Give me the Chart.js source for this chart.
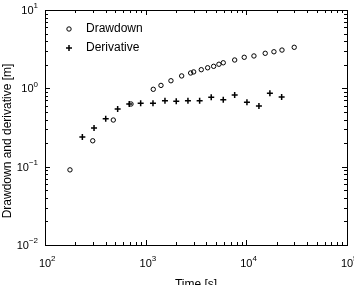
<!DOCTYPE html>
<html>
<head>
<meta charset="utf-8">
<script src="https://cdn.jsdelivr.net/npm/chart.js@4"></script>
<style>
  html, body { margin: 0; padding: 0; background: #fff; }
  canvas { display: block; }
</style>
</head>
<body>
<canvas id="grafico" width="354" height="285"></canvas>
<script>
// --- data ---
const timeDrawdown = [177, 298, 477, 715, 1190, 1419, 1783, 2278, 2798, 2998, 3567, 4128, 4735, 5345, 5900, 7660, 9530, 11900, 15400, 18800, 22600, 29900];
const drawdown = [0.091, 0.214, 0.394, 0.631, 0.972, 1.09, 1.25, 1.44, 1.57, 1.62, 1.73, 1.83, 1.91, 2.03, 2.12, 2.30, 2.49, 2.59, 2.80, 2.93, 3.08, 3.34];
const timeDerivative = [235, 307, 401, 527, 687, 892, 1182, 1555, 2013, 2630, 3437, 4480, 5900, 7660, 10140, 13340, 17140, 22430];
const derivative = [0.239, 0.312, 0.410, 0.545, 0.631, 0.644, 0.644, 0.695, 0.683, 0.695, 0.695, 0.768, 0.716, 0.822, 0.664, 0.595, 0.864, 0.775];

const xDecades = [2, 3, 4, 5];
const yDecades = [-2, -1, 0, 1];
const seriesNames = ['Drawdown', 'Derivative'];
const xTitle = 'Time [s]';
const yTitle = 'Drawdown and derivative [m]';

const FONT = '"Liberation Sans", Arial, Helvetica, sans-serif';

function toPoints(xs, ys) {
    return xs.map((x, i) => ({ x: x, y: ys[i] }));
}

// label "10" with a raised exponent
function drawPower(ctx, exp, x, y, align) {
    const base = '10';
    const sup = String(exp).replace('-', '\u2212');
    ctx.font = '11px ' + FONT;
    const wb = ctx.measureText(base).width;
    ctx.font = '8px ' + FONT;
    const ws = ctx.measureText(sup).width;
    let left;
    if (align === 'center') left = x - wb / 2;
    else left = x - wb - ws; // right aligned
    ctx.textAlign = 'left';
    ctx.textBaseline = 'middle';
    ctx.font = '11px ' + FONT;
    ctx.fillText(base, left, y);
    ctx.font = '8px ' + FONT;
    ctx.fillText(sup, left + wb, y - 5);
}

// axes box, inward ticks, labels, legend (MATLAB look)
const frame = {
    id: 'frame',
    afterDraw(chart) {
        const ctx = chart.ctx;
        const a = chart.chartArea;
        const xs = chart.scales.x;
        const ys = chart.scales.y;
        ctx.save();
        ctx.strokeStyle = '#000';
        ctx.fillStyle = '#000';
        ctx.lineWidth = 1;
        ctx.strokeRect(Math.round(a.left) + 0.5, Math.round(a.top) + 0.5,
            Math.round(a.right - a.left), Math.round(a.bottom - a.top));

        ctx.beginPath();
        xDecades.forEach(d => {
            for (let m = 1; m <= 9; m++) {
                const v = m * Math.pow(10, d);
                if (v > xs.max * 1.0001) break;
                const px = Math.round(xs.getPixelForValue(v)) + 0.5;
                const len = m === 1 ? 5 : 3;
                ctx.moveTo(px, a.bottom); ctx.lineTo(px, a.bottom - len);
                ctx.moveTo(px, a.top); ctx.lineTo(px, a.top + len);
            }
        });
        yDecades.forEach(d => {
            for (let m = 1; m <= 9; m++) {
                const v = m * Math.pow(10, d);
                if (v > ys.max * 1.0001) break;
                const py = Math.round(ys.getPixelForValue(v)) + 0.5;
                const len = m === 1 ? 5 : 3;
                ctx.moveTo(a.left, py); ctx.lineTo(a.left + len, py);
                ctx.moveTo(a.right, py); ctx.lineTo(a.right - len, py);
            }
        });
        ctx.stroke();

        xDecades.forEach(d => {
            drawPower(ctx, d, xs.getPixelForValue(Math.pow(10, d)), a.bottom + 19, 'center');
        });
        yDecades.forEach(d => {
            drawPower(ctx, d, a.left - 7, ys.getPixelForValue(Math.pow(10, d)) + 1, 'right');
        });

        // axis titles
        ctx.font = '12px ' + FONT;
        ctx.textAlign = 'center';
        ctx.textBaseline = 'middle';
        ctx.fillText(xTitle, (a.left + a.right) / 2, a.bottom + 40);
        ctx.save();
        ctx.translate(8, 141);
        ctx.rotate(-Math.PI / 2);
        ctx.fillText(yTitle, 0, 0);
        ctx.restore();

        // legend inside the axes
        const lx = a.left + 24;
        const ly = [a.top + 19, a.top + 38];
        ctx.beginPath();
        ctx.arc(lx, ly[0], 2.2, 0, Math.PI * 2);
        ctx.stroke();
        ctx.lineWidth = 1.5;
        ctx.beginPath();
        ctx.moveTo(lx - 3, ly[1]); ctx.lineTo(lx + 3, ly[1]);
        ctx.moveTo(lx, ly[1] - 3); ctx.lineTo(lx, ly[1] + 3);
        ctx.stroke();
        ctx.textAlign = 'left';
        ctx.font = '12px ' + FONT;
        ctx.fillText(seriesNames[0], lx + 17, ly[0]);
        ctx.fillText(seriesNames[1], lx + 17, ly[1]);
        ctx.restore();
    }
};

const config = {
    type: 'scatter',
    data: {
        datasets: [
            {
                label: seriesNames[0],
                data: toPoints(timeDrawdown, drawdown),
                pointStyle: 'circle',
                pointRadius: 2.2,
                borderWidth: 1,
                borderColor: '#000',
                backgroundColor: 'rgba(0,0,0,0)'
            },
            {
                label: seriesNames[1],
                data: toPoints(timeDerivative, derivative),
                pointStyle: 'cross',
                pointRadius: 3,
                borderWidth: 1.5,
                borderColor: '#000',
                backgroundColor: '#000'
            }
        ]
    },
    options: {
        responsive: false,
        animation: false,
        layout: { padding: { left: 45, top: 10, right: 7, bottom: 40 } },
        plugins: { legend: { display: false }, tooltip: { enabled: false } },
        scales: {
            x: { type: 'logarithmic', min: 100, max: 100000, display: false },
            y: { type: 'logarithmic', min: 0.01, max: 10, display: false }
        }
    },
    plugins: [frame]
};

new Chart(document.getElementById('grafico').getContext('2d'), config);
</script>
</body>
</html>
